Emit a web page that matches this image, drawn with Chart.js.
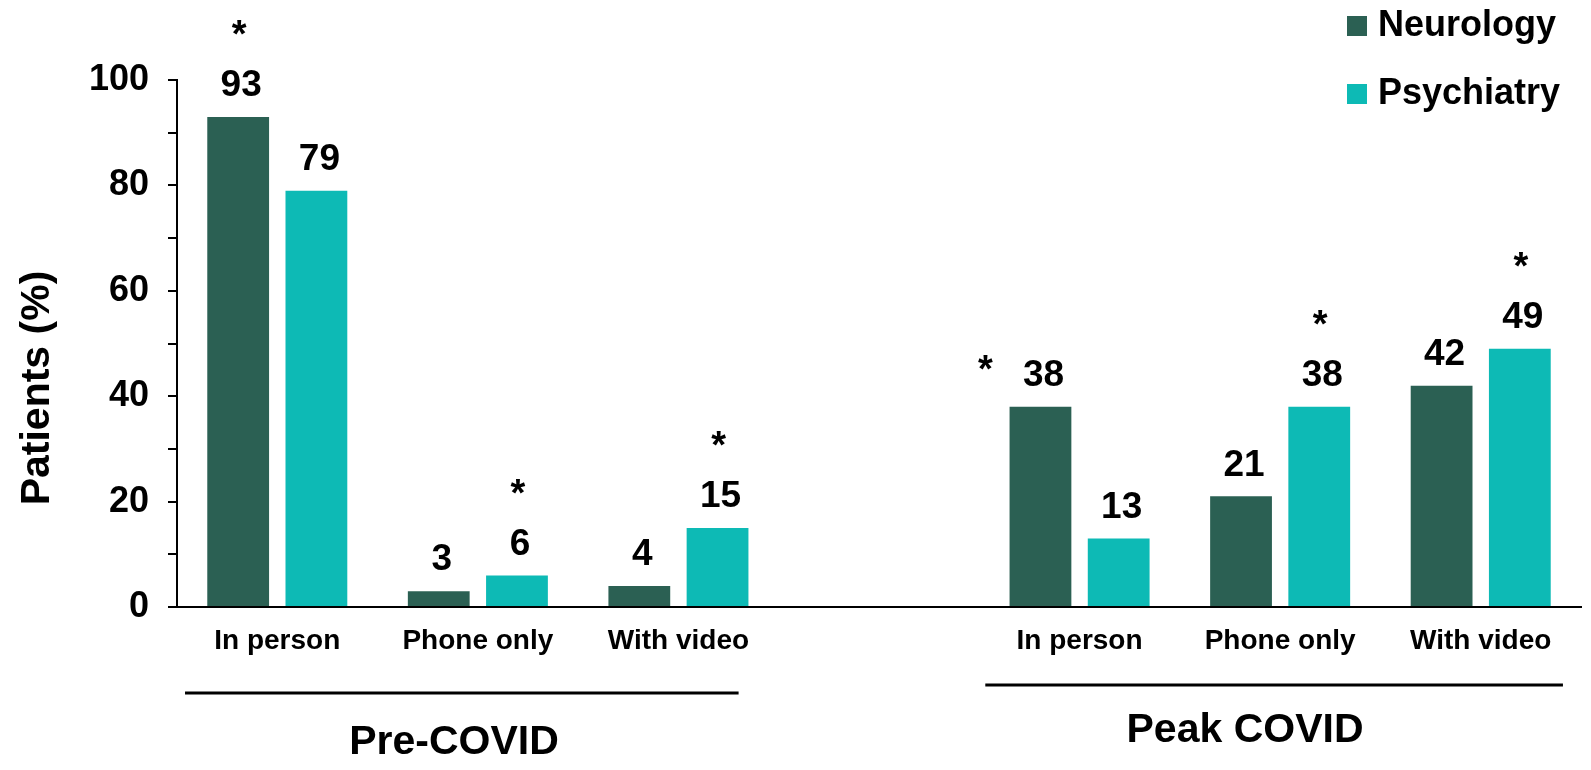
<!DOCTYPE html>
<html lang="en">
<head>
    <meta charset="UTF-8">
    <title>Patients by visit type</title>
    <script src="https://cdn.jsdelivr.net/npm/chart.js"></script>
    <style>
        html, body { margin: 0; padding: 0; background: #fff; }
        .chart-container { width: 1591px; height: 770px; position: relative; }
    </style>
</head>
<body>
    <div class="chart-container">
        <canvas id="visitChart"></canvas>
    </div>

    <script>
        const categories = ['In person', 'Phone only', 'With video', '', 'In person', 'Phone only', 'With video'];
        const neurology = [93, 3, 4, null, 38, 21, 42];
        const psychiatry = [79, 6, 15, null, 13, 38, 49];
        // where a significance asterisk goes for each bar
        const neurologySig = ['top', '', '', '', 'left', '', ''];
        const psychiatrySig = ['', 'top', 'top', '', '', 'top', 'top'];
        const groupLabels = ['Pre-COVID', 'Peak COVID'];
        const yTicks = [0, 20, 40, 60, 80, 100];
        const yTitle = 'Patients (%)';

        const FONT = '"Liberation Sans", Arial, sans-serif';
        const darkGreen = '#2b6053';
        const teal = '#0dbab5';

        // value labels, asterisks, group brackets, axis title and legend
        const annotations = {
            id: 'annotations',
            afterDatasetsDraw(chart) {
                const ctx = chart.ctx;
                const xScale = chart.scales.x;
                const sigs = [neurologySig, psychiatrySig];
                ctx.save();
                ctx.fillStyle = '#000';
                ctx.textAlign = 'center';
                ctx.textBaseline = 'middle';
                chart.data.datasets.forEach((ds, di) => {
                    const meta = chart.getDatasetMeta(di);
                    meta.data.forEach((bar, i) => {
                        if (ds.data[i] == null) return;
                        const ly = bar.y - 31;
                        ctx.font = 'bold 37px ' + FONT;
                        ctx.fillText(String(ds.data[i]), bar.x + 3, ly);
                        ctx.font = 'bold 38px ' + FONT;
                        if (sigs[di][i] === 'top') ctx.fillText('*', bar.x + 1, ly - 49);
                        if (sigs[di][i] === 'left') ctx.fillText('*', bar.x - 55, ly - 4);
                    });
                });

                // group brackets
                const w = xScale.getPixelForValue(1) - xScale.getPixelForValue(0);
                ctx.strokeStyle = '#000';
                ctx.lineWidth = 3;
                ctx.beginPath();
                ctx.moveTo(xScale.getPixelForValue(0) - 0.46 * w, 693);
                ctx.lineTo(xScale.getPixelForValue(2) + 0.3 * w, 693);
                ctx.moveTo(xScale.getPixelForValue(4) - 0.47 * w, 685);
                ctx.lineTo(xScale.getPixelForValue(6) + 0.41 * w, 685);
                ctx.stroke();
                ctx.font = 'bold 41px ' + FONT;
                ctx.fillText(groupLabels[0], 454, 743);
                ctx.fillText(groupLabels[1], 1245, 731);

                // y axis title, sits a little below the middle of the axis
                ctx.save();
                ctx.translate(38, 388);
                ctx.rotate(-Math.PI / 2);
                ctx.font = 'bold 41px ' + FONT;
                ctx.fillText(yTitle, 0, 0);
                ctx.restore();

                // legend
                const items = [[chart.data.datasets[0].label, darkGreen, 26], [chart.data.datasets[1].label, teal, 94]];
                ctx.textAlign = 'left';
                ctx.font = 'bold 36px ' + FONT;
                items.forEach(([text, color, cy]) => {
                    ctx.fillStyle = color;
                    ctx.fillRect(1347, cy - 10, 20, 20);
                    ctx.fillStyle = '#000';
                    ctx.fillText(text, 1378, cy);
                });
                ctx.restore();
            }
        };

        const ctx = document.getElementById('visitChart').getContext('2d');
        new Chart(ctx, {
            type: 'bar',
            data: {
                labels: categories,
                datasets: [{
                    label: 'Neurology',
                    data: neurology,
                    backgroundColor: darkGreen
                },
                {
                    label: 'Psychiatry',
                    data: psychiatry,
                    backgroundColor: teal
                }]
            },
            options: {
                responsive: true,
                maintainAspectRatio: false,
                animation: false,
                categoryPercentage: 0.78,
                barPercentage: 0.79,
                layout: { padding: { top: 80, right: 10, bottom: 0, left: 0 } },
                plugins: {
                    legend: { display: false },
                    tooltip: { enabled: false }
                },
                scales: {
                    x: {
                        grid: { display: true, drawOnChartArea: false, drawTicks: false },
                        border: { display: true, color: '#000', width: 2 },
                        ticks: {
                            color: '#000',
                            padding: 17,
                            maxRotation: 0,
                            autoSkip: false,
                            font: { family: FONT, size: 28, weight: 'bold' }
                        },
                        afterFit(scale) { scale.height = 163; }
                    },
                    y: {
                        min: 0,
                        max: 100,
                        ticks: {
                            stepSize: 10,
                            color: '#000',
                            padding: 19,
                            font: { family: FONT, size: 36, weight: 'bold' },
                            callback: (v) => yTicks.includes(v) ? v : ''
                        },
                        grid: { display: true, drawOnChartArea: false, drawTicks: true, tickLength: 9, color: '#000', lineWidth: 2 },
                        border: { display: true, color: '#000', width: 2 },
                        afterFit(scale) { scale.width = 177; }
                    }
                }
            },
            plugins: [annotations]
        });
    </script>
</body>
</html>
